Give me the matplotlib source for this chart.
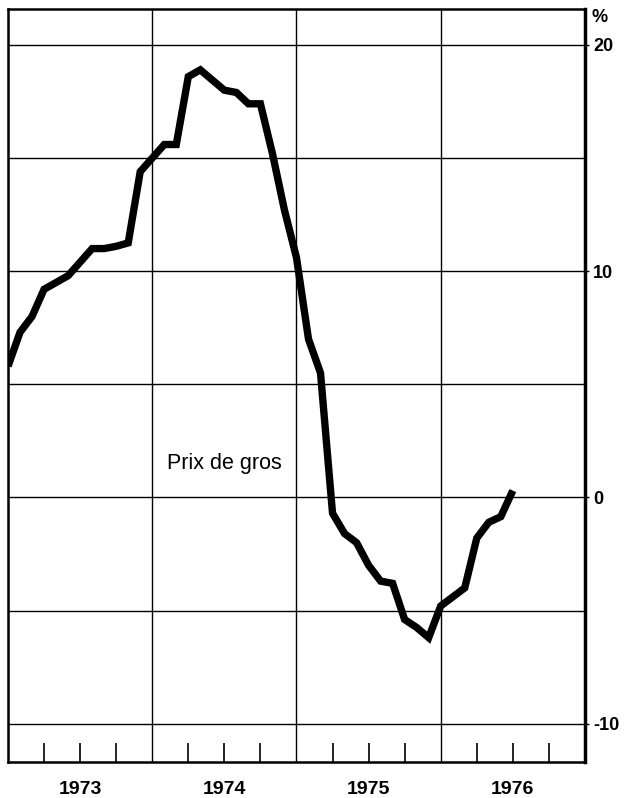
import matplotlib
matplotlib.use("Agg")
import matplotlib.pyplot as plt
import numpy as np

# Prix de gros, variation en % (mensuel, janv. 1973 - juil. 1976)
annee_debut = 1973
valeurs = [5.8, 7.3, 8.0, 9.2, 9.5, 9.8, 10.4, 11.0, 11.0, 11.1, 11.25,
           14.4, 15.0, 15.6, 15.6, 18.6, 18.9, 18.45, 18.0, 17.9, 17.4,
           17.4, 15.2, 12.7, 10.6, 7.0, 5.5, -0.7, -1.6, -2.0, -3.0,
           -3.7, -3.8, -5.4, -5.75, -6.2, -4.8, -4.4, -4.0, -1.8, -1.1,
           -0.85, 0.3]
annees = ["1973", "1974", "1975", "1976"]
yticks = [-10, 0, 10, 20]

plt.rcParams['font.family'] = ['Liberation Sans', 'DejaVu Sans']

fig = plt.figure(figsize=(6.31, 7.98), dpi=100)
ax = fig.add_axes([0.0127, 0.045, 0.9143, 0.944])

x = annee_debut + np.arange(len(valeurs)) / 12
ax.plot(x, valeurs, color='black', linewidth=5.3, solid_joinstyle='miter',
        solid_capstyle='butt', zorder=3)

ax.set_xlim(1973, 1977)
ax.set_ylim(-11.7, 21.6)

# grille
for yg in range(-10, 21, 5):
    ax.axhline(yg, color='black', linewidth=1.0, zorder=1)
for xg in [1974, 1975, 1976]:
    ax.axvline(xg, color='black', linewidth=1.0, zorder=1)

# graduations trimestrielles en bas
ax.set_xticks([a + q / 4 for a in range(1973, 1977) for q in (1, 2, 3)])
ax.set_xticklabels([])
ax.tick_params(axis='x', direction='in', length=14, width=1.2, bottom=True)
for i, lab in enumerate(annees):
    ax.text(1973.5 + i, -12.55, lab, ha='center', va='top', fontsize=14,
            fontweight='bold')

ax.yaxis.tick_right()
ax.set_yticks(yticks)
ax.set_yticklabels([str(v) for v in yticks], fontsize=13, fontweight='bold')
ax.tick_params(axis='y', direction='out', length=3, width=1, pad=3)
ax.text(1.012, 1.0, "%", transform=ax.transAxes, ha='left', va='top',
        fontsize=13, fontweight='bold')

ax.text(1974.1, 1.5, "Prix de gros", fontsize=15.5, ha='left', va='center')

for s in ax.spines.values():
    s.set_linewidth(1.8)
ax.spines['right'].set_linewidth(2.5)

fig.savefig("out.png", dpi=100)
